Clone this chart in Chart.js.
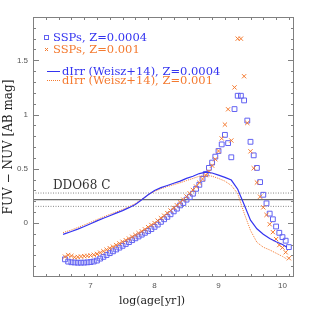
<!DOCTYPE html>
<html>
<head>
  <meta charset="UTF-8">
  <title>FUV - NUV vs age</title>
  <script src="https://cdn.jsdelivr.net/npm/chart.js"></script>
  <style>
    body { margin: 0; background: #fff; }
    #wrap { width: 311px; height: 311px; position: relative; }
  </style>
</head>
<body>
  <div id="wrap"><canvas id="chart"></canvas></div>

  <script>
    // SSP ages, log(yr)
    const sspAge = [6.6, 6.65, 6.7, 6.75, 6.8, 6.85, 6.9, 6.95, 7.0, 7.05,
      7.1, 7.15, 7.2, 7.25, 7.3, 7.35, 7.4, 7.45, 7.5, 7.55,
      7.6, 7.65, 7.7, 7.75, 7.8, 7.85, 7.9, 7.95, 8.0, 8.05,
      8.1, 8.15, 8.2, 8.25, 8.3, 8.35, 8.4, 8.45, 8.5, 8.55,
      8.6, 8.65, 8.7, 8.75, 8.8, 8.85, 8.9, 8.95, 9.0, 9.05,
      9.1, 9.15, 9.2, 9.25, 9.3, 9.35, 9.4, 9.45, 9.5, 9.55,
      9.6, 9.65, 9.7, 9.75, 9.8, 9.85, 9.9, 9.95, 10.0, 10.05, 10.1];

    // SSPs, Z=0.0004
    const sspZ0004 = [-0.337, -0.358, -0.364, -0.366, -0.368, -0.368, -0.367, -0.365, -0.362, -0.357,
      -0.348, -0.330, -0.314, -0.297, -0.280, -0.263, -0.246, -0.229, -0.212, -0.195,
      -0.178, -0.160, -0.143, -0.126, -0.109, -0.092, -0.075, -0.058, -0.037, -0.016,
      0.009, 0.033, 0.055, 0.079, 0.106, 0.131, 0.161, 0.183, 0.214, 0.238,
      0.269, 0.314, 0.351, 0.406, 0.452, 0.507, 0.556, 0.611, 0.663, 0.724,
      0.812, 0.736, 0.605, 1.050, 1.173, 1.173, 1.130, 0.944, 0.748, 0.623,
      0.507, 0.376, 0.259, 0.180, 0.085, 0.033, -0.034, -0.092, -0.132, -0.165, -0.224];

    // SSPs, Z=0.001
    const sspZ001 = [-0.312, -0.297, -0.305, -0.318, -0.315, -0.311, -0.308, -0.305, -0.301, -0.295,
      -0.287, -0.275, -0.262, -0.248, -0.234, -0.220, -0.205, -0.190, -0.175, -0.160,
      -0.145, -0.128, -0.112, -0.095, -0.078, -0.060, -0.040, -0.020, -0.002, 0.020,
      0.043, 0.066, 0.090, 0.114, 0.138, 0.162, 0.188, 0.214, 0.243, 0.272,
      0.303, 0.335, 0.370, 0.405, 0.440, 0.473, 0.528, 0.587, 0.663, 0.779,
      0.907, 1.048, 0.760, 1.250, 1.700, 1.700, 1.353, 0.922, 0.660, 0.504,
      0.372, 0.241, 0.143, 0.073, -0.013, -0.086, -0.150, -0.205, -0.229, -0.272, -0.327];

    // dIrr (Weisz+14) star formation histories
    const dirrAge = [6.57, 6.7, 6.8, 6.9, 7.0, 7.1, 7.2, 7.3, 7.4, 7.5,
      7.6, 7.7, 7.8, 7.9, 8.0, 8.1, 8.2, 8.3, 8.4, 8.5,
      8.6, 8.7, 8.8, 8.9, 9.0, 9.1, 9.2, 9.3, 9.4, 9.5,
      9.6, 9.7, 9.8, 9.9, 10.0, 10.07];
    const dirrZ0004 = [-0.107, -0.080, -0.058, -0.034, -0.008, 0.018, 0.042, 0.066, 0.090, 0.113,
      0.140, 0.170, 0.213, 0.260, 0.298, 0.325, 0.345, 0.365, 0.385, 0.410,
      0.430, 0.455, 0.468, 0.460, 0.440, 0.420, 0.395, 0.310, 0.170, 0.025,
      -0.055, -0.105, -0.145, -0.175, -0.200, -0.225];
    const dirrZ001 = [-0.090, -0.066, -0.043, -0.020, 0.005, 0.030, 0.055, 0.078, 0.100, 0.123,
      0.148, 0.178, 0.218, 0.258, 0.290, 0.315, 0.335, 0.352, 0.370, 0.390,
      0.410, 0.430, 0.440, 0.430, 0.410, 0.385, 0.345, 0.270, 0.090, -0.070,
      -0.180, -0.225, -0.250, -0.280, -0.310, -0.335];

    // DDO68 C colour and its error band
    const ddoLabel = 'DDO68 C';
    const ddoColor = 0.214;
    const ddoLow = 0.152;
    const ddoHigh = 0.275;

    const xRange = [6.1, 10.18];
    const yRange = [-0.5, 1.9];
    const xMajor = [7, 8, 9, 10];
    const yMajor = [0, 0.5, 1, 1.5];

    const blue = '#3434f0';
    const blueMark = '#6262f2';
    const orange = '#f47a30';
    const grey = '#6a6a6a';

    const pts = (xs, ys) => xs.map((x, i) => ({ x: x, y: ys[i] }));
    const hline = v => [{ x: xRange[0], y: v }, { x: xRange[1], y: v }];

    // Rahmen mit Ticks nach innen auf allen vier Seiten
    const framePlugin = {
      id: 'frame',
      afterDraw(chart) {
        const { ctx, chartArea: a, scales: { x, y } } = chart;
        ctx.save();
        ctx.strokeStyle = '#808080';
        ctx.lineWidth = 1;
        ctx.strokeRect(a.left + 0.5, a.top + 0.5, a.right - a.left - 1, a.bottom - a.top - 1);
        ctx.beginPath();
        for (let i = 31; i <= 101; i += 2) {
          const v = i / 10;
          if (v <= xRange[0] || v >= xRange[1]) continue;
          const px = Math.round(x.getPixelForValue(v)) + 0.5;
          const len = xMajor.includes(v) ? 6 : 3;
          ctx.moveTo(px, a.bottom); ctx.lineTo(px, a.bottom - len);
          ctx.moveTo(px, a.top); ctx.lineTo(px, a.top + len);
        }
        for (let i = -4; i <= 18; i++) {
          const v = i / 10;
          const py = Math.round(y.getPixelForValue(v)) + 0.5;
          const len = (i % 5 === 0) ? 6 : 3;
          ctx.moveTo(a.left, py); ctx.lineTo(a.left + len, py);
          ctx.moveTo(a.right, py); ctx.lineTo(a.right - len, py);
        }
        ctx.stroke();

        // Achsentitel
        ctx.fillStyle = '#222';
        ctx.font = '11px "DejaVu Serif"';
        ctx.textAlign = 'center';
        ctx.textBaseline = 'middle';
        ctx.fillText('log(age[yr])', 152, 301);
        ctx.translate(9, (a.top + a.bottom) / 2);
        ctx.rotate(-Math.PI / 2);
        ctx.font = '12px "DejaVu Serif"';
        ctx.fillText('FUV \u2212 NUV [AB mag]', 0, 0);
        ctx.restore();
      }
    };

    // Legende und DDO68-Beschriftung
    const legendPlugin = {
      id: 'legendBox',
      afterDatasetsDraw(chart) {
        const { ctx, scales: { y } } = chart;
        ctx.save();
        ctx.textBaseline = 'middle';
        ctx.textAlign = 'left';
        ctx.font = '11.5px "DejaVu Serif"';

        ctx.strokeStyle = blueMark;
        ctx.lineWidth = 1;
        ctx.strokeRect(44.5, 35.5, 4, 4);
        ctx.fillStyle = blue;
        ctx.fillText('SSPs, Z=0.0004', 53, 38);

        ctx.strokeStyle = orange;
        ctx.beginPath();
        ctx.moveTo(45, 48); ctx.lineTo(48, 51);
        ctx.moveTo(48, 48); ctx.lineTo(45, 51);
        ctx.stroke();
        ctx.fillStyle = orange;
        ctx.fillText('SSPs, Z=0.001', 53, 50);

        ctx.strokeStyle = blue;
        ctx.beginPath();
        ctx.moveTo(47, 71.5); ctx.lineTo(60, 71.5);
        ctx.stroke();
        ctx.fillStyle = blue;
        ctx.fillText('dIrr (Weisz+14), Z=0.0004', 62, 72);

        ctx.strokeStyle = orange;
        ctx.setLineDash([1, 1]);
        ctx.beginPath();
        ctx.moveTo(47, 80.5); ctx.lineTo(60, 80.5);
        ctx.stroke();
        ctx.setLineDash([]);
        ctx.fillStyle = orange;
        ctx.fillText('dIrr (Weisz+14), Z=0.001', 62, 81);

        ctx.fillStyle = '#333';
        ctx.font = '12px "DejaVu Serif"';
        ctx.fillText(ddoLabel, 53, y.getPixelForValue(ddoHigh) - 7);
        ctx.restore();
      }
    };

    const ctx = document.getElementById('chart').getContext('2d');
    new Chart(ctx, {
      type: 'scatter',
      data: {
        datasets: [
          { data: hline(ddoColor), showLine: true, borderColor: grey, borderWidth: 1.2, pointRadius: 0, order: 6 },
          { data: hline(ddoHigh), showLine: true, borderColor: '#888', borderWidth: 1, borderDash: [1, 1.5], pointRadius: 0, order: 6 },
          { data: hline(ddoLow), showLine: true, borderColor: '#888', borderWidth: 1, borderDash: [1, 1.5], pointRadius: 0, order: 6 },
          { label: 'SSPs, Z=0.0004', data: pts(sspAge, sspZ0004), pointStyle: 'rect', pointRadius: 3.4,
            borderColor: blueMark, backgroundColor: 'rgba(0,0,0,0)', borderWidth: 1, order: 5 },
          { label: 'SSPs, Z=0.001', data: pts(sspAge, sspZ001), pointStyle: 'crossRot', pointRadius: 3,
            borderColor: orange, backgroundColor: orange, borderWidth: 1, order: 4 },
          { label: 'dIrr (Weisz+14), Z=0.0004', data: pts(dirrAge, dirrZ0004), showLine: true,
            borderColor: blue, borderWidth: 1.2, pointRadius: 0, order: 2 },
          { label: 'dIrr (Weisz+14), Z=0.001', data: pts(dirrAge, dirrZ001), showLine: true,
            borderColor: orange, borderWidth: 1, borderDash: [1, 1], pointRadius: 0, order: 3 }
        ]
      },
      options: {
        responsive: true,
        maintainAspectRatio: false,
        animation: false,
        layout: { padding: { top: 17, right: 17, left: 0, bottom: 0 } },
        plugins: { legend: { display: false }, tooltip: { enabled: false } },
        scales: {
          x: {
            type: 'linear', min: xRange[0], max: xRange[1],
            grid: { display: false, drawTicks: false },
            border: { display: false },
            afterBuildTicks: s => { s.ticks = xMajor.map(v => ({ value: v })); },
            afterFit: s => { s.height = 34; },
            ticks: { padding: 4, color: '#555', font: { family: 'Liberation Sans', size: 8 },
              maxRotation: 0, callback: v => String(v) }
          },
          y: {
            type: 'linear', min: yRange[0], max: yRange[1],
            grid: { display: false, drawTicks: false },
            border: { display: false },
            afterBuildTicks: s => { s.ticks = yMajor.map(v => ({ value: v })); },
            afterFit: s => { s.width = 33; },
            ticks: { padding: 5, color: '#555', font: { family: 'Liberation Sans', size: 8 },
              callback: v => String(v) }
          }
        }
      },
      plugins: [legendPlugin, framePlugin]
    });
  </script>
</body>
</html>
